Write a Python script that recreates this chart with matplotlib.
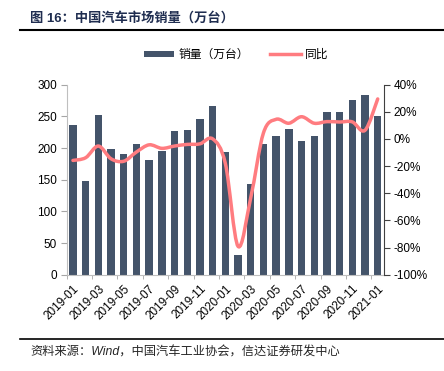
import numpy as np
import matplotlib
matplotlib.use("Agg")
import matplotlib.pyplot as plt
from matplotlib.path import Path
from matplotlib.patches import PathPatch, Patch
from matplotlib.lines import Line2D

plt.rcParams['font.family'] = ['Liberation Sans', 'Noto Sans CJK SC']
plt.rcParams['axes.unicode_minus'] = False

months = ["2019-01", "2019-02", "2019-03", "2019-04", "2019-05", "2019-06",
          "2019-07", "2019-08", "2019-09", "2019-10", "2019-11", "2019-12",
          "2020-01", "2020-02", "2020-03", "2020-04", "2020-05", "2020-06",
          "2020-07", "2020-08", "2020-09", "2020-10", "2020-11", "2020-12",
          "2021-01"]
sales = [236.7, 148.2, 252.0, 198.0, 191.3, 205.6, 180.8, 195.8, 227.1, 228.4, 246.1, 265.6,
         194.1, 31.0, 143.0, 207.0, 219.4, 229.8, 211.2, 218.6, 256.5, 257.3, 276.5, 283.1,
         250.3]
yoy = [-15.8, -13.8, -5.2, -14.6, -16.4, -9.6, -4.3, -6.9, -5.2, -4.0, -3.6, 0.1,
       -18.0, -79.1, -43.3, 4.4, 14.5, 11.6, 16.4, 11.6, 12.8, 12.5, 12.6, 6.4,
       29.5]

bar_color = '#44546a'
line_color = '#ff7c80'

fig = plt.figure(figsize=(4.44, 3.71), dpi=100)
ax = fig.add_axes([0.150, 0.2596, 0.715, 0.5121])
ax2 = ax.twinx()

x = np.arange(len(months))
ax.bar(x, sales, width=0.58, color=bar_color, zorder=2)
ax.set_xlim(-0.5, len(months) - 0.5)
ax.set_ylim(0, 300)
ax.set_yticks(range(0, 301, 50))

# smoothed line (catmull-rom -> bezier, like excel's smooth line)
pts = np.column_stack([x, yoy]).astype(float)
verts = [tuple(pts[0])]
codes = [Path.MOVETO]
n = len(pts)
for i in range(n - 1):
    p0 = pts[max(i - 1, 0)]
    p1 = pts[i]
    p2 = pts[i + 1]
    p3 = pts[min(i + 2, n - 1)]
    c1 = p1 + (p2 - p0) / 6.0
    c2 = p2 - (p3 - p1) / 6.0
    verts += [tuple(c1), tuple(c2), tuple(p2)]
    codes += [Path.CURVE4] * 3
ax2.add_patch(PathPatch(Path(verts, codes), facecolor='none', edgecolor=line_color,
                        lw=2.5, capstyle='round', joinstyle='round', zorder=3))
ax2.set_ylim(-100, 40)
ax2.set_yticks(range(-100, 41, 20))
ax2.set_yticklabels([f"{v}%" for v in range(-100, 41, 20)])

ax.set_xticks(x[::2])
ax.set_xticklabels(months[::2], rotation=45, ha='right', rotation_mode='anchor')
ax.set_xticks(np.arange(-0.5, len(months), 2), minor=True)
ax.tick_params(axis='x', which='major', length=0, pad=6, labelsize=8.5, colors='#000000')
ax.tick_params(axis='x', which='minor', length=3, color='#a6a6a6')
ax.tick_params(axis='y', length=4, color='#a6a6a6', labelsize=8.5, pad=3)
ax2.tick_params(axis='y', length=4, color='#404040', labelsize=8.5, pad=3)

for a in (ax, ax2):
    a.spines['top'].set_visible(False)
ax.spines['left'].set_color('#bfbfbf')
ax.spines['bottom'].set_color('#bfbfbf')
ax.spines['right'].set_visible(False)
ax2.spines['left'].set_visible(False)
ax2.spines['bottom'].set_visible(False)
ax2.spines['right'].set_color('#404040')

handles = [Patch(facecolor=bar_color, edgecolor='none'),
           Line2D([0], [0], color=line_color, lw=2.5)]
fig.legend(handles, ["销量（万台）", "同比"], loc='center', bbox_to_anchor=(0.532, 0.852),
           ncol=2, frameon=False, fontsize=8.5, handlelength=2.6, handleheight=0.45,
           columnspacing=1.8, handletextpad=0.35)

fig.text(0.068, 0.951, "图 16：中国汽车市场销量（万台）", fontsize=9.5, fontweight='bold',
         color='#1f2d50', ha='left', va='center')
fig.add_artist(Line2D([0.045, 1.0], [0.919, 0.919], color='black', lw=1.5))
fig.add_artist(Line2D([0.045, 1.0], [0.086, 0.086], color='black', lw=1.2))
fig.text(0.068, 0.051, "资料来源：Wind，中国汽车工业协会，信达证券研发中心", fontsize=8.8,
         fontstyle='italic', color='#262626', ha='left', va='center')

fig.savefig("out.png", dpi=100)
